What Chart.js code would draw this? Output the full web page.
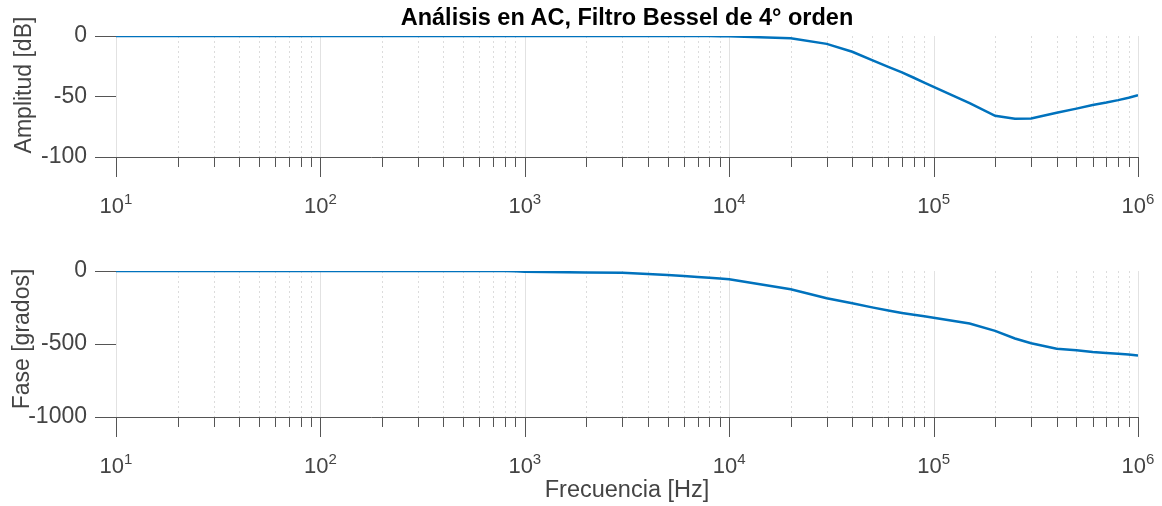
<!DOCTYPE html>
<html>
<head>
<meta charset="utf-8">
<script src="https://cdn.jsdelivr.net/npm/chart.js@4/dist/chart.umd.min.js"></script>
<style>
  body {
    margin: 0;
    width: 1162px;
    height: 506px;
    position: relative;
    overflow: hidden;
    background: #fff;
    font-family: 'Liberation Sans', Arial, sans-serif;
    color: #444;
  }
  canvas { position: absolute; left: 0; }
  #ampChart { top: 0; }
  #phaseChart { top: 235px; }
  .title {
    position: absolute;
    left: 227px;
    width: 800px;
    top: 6px;
    text-align: center;
    font-weight: bold;
    font-size: 23.5px;
    line-height: 23px;
    color: #000;
  }
  .ylab {
    position: absolute;
    transform: translate(-50%, -50%) rotate(-90deg);
    white-space: nowrap;
    font-size: 23px;
    line-height: 23px;
  }
  .xlab {
    position: absolute;
    left: 427px;
    width: 400px;
    top: 478px;
    text-align: center;
    font-size: 23.5px;
    line-height: 23px;
  }
</style>
</head>
<body>
<canvas id="ampChart" width="1162" height="235"></canvas>
<canvas id="phaseChart" width="1162" height="271"></canvas>
<div class="title">Análisis en AC, Filtro Bessel de 4° orden</div>
<div class="ylab" style="left:23px; top:85px;">Amplitud [dB]</div>
<div class="ylab" style="left:21px; top:339px;">Fase [grados]</div>
<div class="xlab">Frecuencia [Hz]</div>

<script>
// frequency points [Hz]
const freq = [
  10, 20, 30, 40, 50, 60, 70, 80, 90,
  100, 200, 300, 400, 500, 600, 700, 800, 900,
  1e3, 2e3, 3e3, 4e3, 5e3, 6e3, 7e3, 8e3, 9e3,
  1e4, 2e4, 3e4, 4e4, 5e4, 6e4, 7e4, 8e4, 9e4,
  1e5, 1.5e5, 2e5, 2.5e5, 3e5, 4e5, 5e5, 6e5, 7e5, 8e5, 9e5,
  1e6
];

// amplitude [dB]
const amplitude = [
  0, 0, 0, 0, 0, 0, 0, 0, 0,
  0, 0, 0, 0, 0, 0, 0, 0, 0,
  0, 0, 0, 0, 0, 0, -0.1, -0.1, -0.2,
  -0.3, -1.8, -6.5, -13, -20, -25.5, -30, -34.5, -38.5,
  -42, -55.5, -66, -68.4, -68.2, -63.5, -60, -57, -55, -53, -51,
  -49
];

// phase [degrees]
const phase = [
  0, 0, 0, 0, 0, 0, 0, 0, 0,
  0, 0, 0, 0, 0, 0, 0, 0, -1,
  -5, -10, -12, -20, -27, -34, -41, -47, -52,
  -57, -125, -187, -221, -249, -270, -288, -300, -310,
  -320, -360, -410, -462, -495, -533, -543, -555, -561, -566, -572,
  -578
];

// x axis decades and minor ticks
const xMajor = [10, 100, 1e3, 1e4, 1e5, 1e6];
const xExponent = ['1', '2', '3', '4', '5', '6'];
const minorMult = [2, 3, 4, 5, 6, 7, 8, 9];
const xMinor = xMajor.slice(0, -1).flatMap(d => minorMult.map(m => m * d));

const ampTicks = [-100, -50, 0];
const phaseTicks = [-1000, -500, 0];

const axisColor = '#555';
const textColor = '#444';
const fontFamily = "'Liberation Sans', Arial, sans-serif";

const logAxis = {
  id: 'logAxis',
  beforeDatasetsDraw(chart) {
    const { ctx, chartArea: a, scales: { x } } = chart;
    ctx.save();
    ctx.lineWidth = 1;

    // minor grid (dotted)
    ctx.strokeStyle = '#dcdcdc';
    ctx.setLineDash([2, 3]);
    xMinor.forEach(v => {
      const px = Math.round(x.getPixelForValue(v)) + 0.5;
      ctx.beginPath(); ctx.moveTo(px, a.top); ctx.lineTo(px, a.bottom); ctx.stroke();
    });
    ctx.setLineDash([]);

    // major grid
    ctx.strokeStyle = '#e2e2e2';
    xMajor.forEach(v => {
      const px = Math.round(x.getPixelForValue(v)) + 0.5;
      ctx.beginPath(); ctx.moveTo(px, a.top); ctx.lineTo(px, a.bottom); ctx.stroke();
    });

    // tick marks below the axis
    ctx.strokeStyle = axisColor;
    xMinor.forEach(v => {
      const px = Math.round(x.getPixelForValue(v)) + 0.5;
      ctx.beginPath(); ctx.moveTo(px, a.bottom); ctx.lineTo(px, a.bottom + 10); ctx.stroke();
    });
    xMajor.forEach(v => {
      const px = Math.round(x.getPixelForValue(v)) + 0.5;
      ctx.beginPath(); ctx.moveTo(px, a.bottom); ctx.lineTo(px, a.bottom + 20); ctx.stroke();
    });

    // labels 10^n
    ctx.fillStyle = textColor;
    ctx.textBaseline = 'alphabetic';
    ctx.textAlign = 'left';
    const base = a.bottom + 56;
    xMajor.forEach((v, i) => {
      const px = x.getPixelForValue(v);
      ctx.font = '22px ' + fontFamily;
      const w1 = ctx.measureText('10').width;
      ctx.font = '15px ' + fontFamily;
      const w2 = ctx.measureText(xExponent[i]).width;
      const start = px - (w1 + w2) / 2;
      ctx.font = '22px ' + fontFamily;
      ctx.fillText('10', start, base);
      ctx.font = '15px ' + fontFamily;
      ctx.fillText(xExponent[i], start + w1, base - 9);
    });
    ctx.restore();
  }
};

function makeChart(id, values, ticks, xHeight) {
  const ctx = document.getElementById(id).getContext('2d');
  return new Chart(ctx, {
    type: 'line',
    data: {
      datasets: [{
        data: freq.map((f, i) => ({ x: f, y: values[i] })),
        borderColor: '#0072BD',
        borderWidth: 2.5,
        pointRadius: 0,
        tension: 0
      }]
    },
    options: {
      responsive: false,
      animation: false,
      layout: { padding: { top: 36, right: 24, left: 0, bottom: 0 } },
      plugins: { legend: { display: false }, tooltip: { enabled: false } },
      scales: {
        x: {
          type: 'logarithmic',
          min: xMajor[0],
          max: xMajor[xMajor.length - 1],
          ticks: { display: false },
          grid: { display: true, drawOnChartArea: false, drawTicks: false },
          border: { display: true, color: axisColor, width: 1 },
          afterFit: s => { s.height = xHeight; }
        },
        y: {
          min: ticks[0],
          max: ticks[ticks.length - 1],
          afterBuildTicks: s => { s.ticks = ticks.map(v => ({ value: v })); },
          ticks: {
            padding: 8,
            color: textColor,
            font: { size: 23, family: fontFamily },
            callback: v => String(v)
          },
          grid: {
            drawOnChartArea: false,
            drawTicks: true,
            tickLength: 21,
            tickColor: axisColor
          },
          border: { display: true, color: axisColor, width: 1 },
          afterFit: s => { s.width = 116; }
        }
      }
    },
    plugins: [logAxis]
  });
}

makeChart('ampChart', amplitude, ampTicks, 78);
makeChart('phaseChart', phase, phaseTicks, 89);
</script>
</body>
</html>
